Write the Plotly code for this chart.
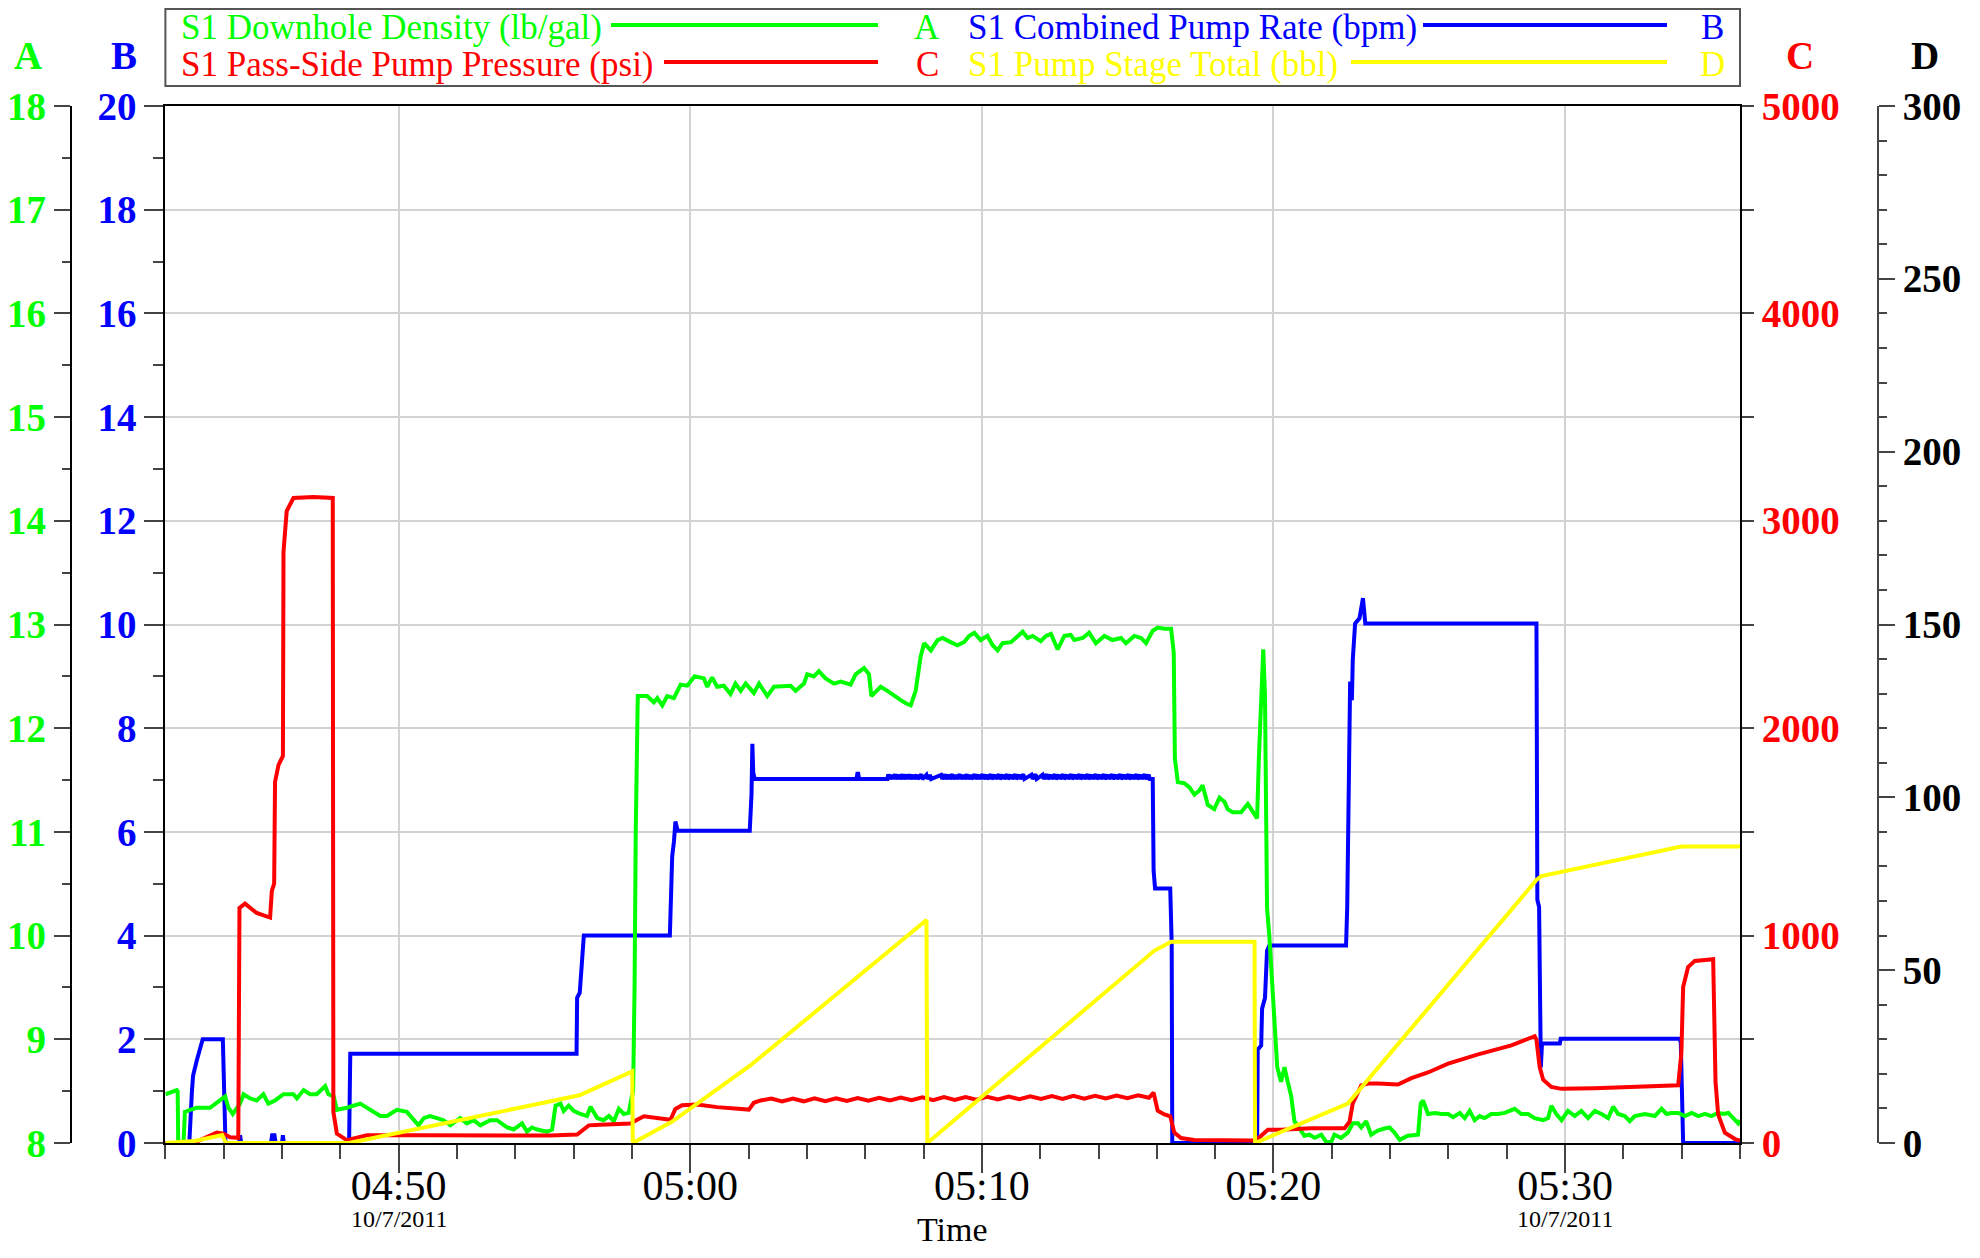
import pandas as pd
import plotly.graph_objects as go

START = pd.Timestamp("2011-10-07 04:42:00")
END = pd.Timestamp("2011-10-07 05:36:00")

# ---------------- data (time = minutes after 04:42:00) ----------------
# S1 Downhole Density (lb/gal) -> axis A
density_t = [0, 0.39, 0.42, 0.44, 0.62, 0.67, 0.85, 1.07, 1.53, 1.93, 2.05, 2.16, 2.31, 2.56, 2.68,
             2.91, 3.13, 3.36, 3.53, 3.76, 4.05, 4.39, 4.51, 4.74, 4.96, 5.19, 5.48, 5.59, 5.77, 5.88,
             6.22, 6.68, 6.91, 7.14, 7.37, 7.60, 7.94, 8.28, 8.51, 8.68, 8.86, 9.08, 9.31, 9.54, 9.77,
             10.11, 10.34, 10.57, 10.80, 11.14, 11.37, 11.72, 11.94, 12.23, 12.40, 12.57, 12.75, 13.09,
             13.26, 13.38, 13.55, 13.66, 13.83, 14.00, 14.23, 14.46, 14.58, 14.69, 14.81, 15.03, 15.21,
             15.38, 15.55, 15.72, 15.89, 15.97, 16.04, 16.09, 16.13, 16.20, 16.52, 16.75, 16.87, 17.04,
             17.21, 17.44, 17.61, 17.67, 17.90, 18.15, 18.47, 18.58, 18.75, 18.92, 19.15, 19.38, 19.55,
             19.73, 19.90, 20.18, 20.36, 20.64, 20.87, 21.21, 21.44, 21.61, 21.90, 22.01, 22.24, 22.41,
             22.64, 22.93, 23.16, 23.50, 23.67, 23.96, 24.13, 24.21, 24.53, 24.76, 24.99, 25.22, 25.39,
             25.56, 25.73, 25.90, 26.02, 26.25, 26.48, 26.65, 26.93, 27.16, 27.39, 27.56, 27.74, 27.96,
             28.19, 28.37, 28.54, 28.71, 29.00, 29.17, 29.40, 29.57, 29.74, 30.02, 30.20, 30.37, 30.60,
             30.83, 31.05, 31.17, 31.46, 31.68, 31.91, 32.20, 32.48, 32.77, 32.94, 33.23, 33.46, 33.63,
             33.86, 34.03, 34.26, 34.49, 34.58, 34.62, 34.72, 34.94, 35.12, 35.29, 35.46, 35.57, 35.75,
             35.97, 36.15, 36.32, 36.43, 36.60, 36.89, 37.12, 37.29, 37.44, 37.50, 37.58, 37.65, 37.71,
             37.78, 37.86, 37.94, 38.03, 38.13, 38.26, 38.38, 38.49, 38.61, 38.72, 38.89, 39.06, 39.24,
             39.41, 39.64, 39.81, 39.98, 40.09, 40.32, 40.55, 40.72, 40.90, 41.01, 41.18, 41.35, 41.58,
             41.81, 41.98, 42.15, 42.33, 42.61, 42.96, 43.05, 43.13, 43.30, 43.53, 43.76, 43.99, 44.16,
             44.39, 44.56, 44.73, 44.90, 45.07, 45.24, 45.47, 45.70, 45.93, 46.27, 46.50, 46.73, 46.96,
             47.25, 47.42, 47.53, 47.70, 47.88, 48.10, 48.33, 48.56, 48.79, 49.02, 49.25, 49.48, 49.65,
             49.82, 50.05, 50.22, 50.39, 50.74, 51.08, 51.31, 51.48, 51.65, 51.88, 52.11, 52.34, 52.57,
             52.80, 53.02, 53.25, 53.43, 53.60, 53.77, 53.94, 54.0]
density_v = [8.47, 8.51, 8.50, 8.00, 8.00, 8.30, 8.32, 8.34, 8.34, 8.43, 8.45, 8.34, 8.28, 8.38, 8.47,
             8.43, 8.41, 8.47, 8.38, 8.41, 8.47, 8.47, 8.43, 8.51, 8.47, 8.47, 8.55, 8.47, 8.45, 8.32,
             8.34, 8.38, 8.34, 8.30, 8.26, 8.26, 8.32, 8.30, 8.22, 8.17, 8.24, 8.26, 8.24, 8.22, 8.17,
             8.24, 8.19, 8.22, 8.17, 8.22, 8.22, 8.15, 8.13, 8.19, 8.11, 8.15, 8.13, 8.11,
             8.13, 8.36, 8.38, 8.31, 8.36, 8.31, 8.28, 8.26, 8.35, 8.29, 8.24, 8.22, 8.26,
             8.21, 8.33, 8.28, 8.29, 8.41, 8.50, 9.50, 11.0, 12.31, 12.31, 12.25, 12.29, 12.22,
             12.31, 12.29, 12.38, 12.42, 12.41, 12.50, 12.48, 12.40, 12.49, 12.40, 12.41, 12.33, 12.43,
             12.36, 12.43, 12.34, 12.43, 12.31, 12.40, 12.41, 12.41, 12.36, 12.43, 12.52, 12.50, 12.55,
             12.48, 12.43, 12.45, 12.42, 12.52, 12.58, 12.52, 12.31, 12.40, 12.36, 12.31, 12.27, 12.24,
             12.22, 12.36, 12.69, 12.82, 12.75, 12.85, 12.87, 12.83, 12.80, 12.83, 12.89, 12.92, 12.85,
             12.89, 12.80, 12.75, 12.82, 12.83, 12.87, 12.93, 12.87, 12.89, 12.84, 12.89, 12.91, 12.76,
             12.89, 12.90, 12.85, 12.87, 12.92, 12.82, 12.89, 12.85, 12.87, 12.82, 12.89, 12.87, 12.82,
             12.94, 12.97, 12.96, 12.96, 12.73, 11.71, 11.48, 11.47, 11.43, 11.36, 11.40, 11.45, 11.26,
             11.22, 11.33, 11.29, 11.22, 11.19, 11.19, 11.27, 11.19, 11.13, 11.71, 12.38, 12.76, 12.31,
             10.27, 9.99, 9.57, 9.22, 8.73, 8.59, 8.73, 8.59, 8.45, 8.21, 8.14, 8.07, 8.08,
             8.05, 8.08, 8.01, 8.01, 8.08, 8.05, 8.10, 8.19, 8.19, 8.15, 8.21, 8.08, 8.12,
             8.14, 8.15, 8.10, 8.03, 8.07, 8.08, 8.38, 8.41, 8.28, 8.29, 8.28, 8.28, 8.25,
             8.29, 8.24, 8.31, 8.22, 8.26, 8.24, 8.28, 8.28, 8.29, 8.33, 8.28, 8.28, 8.24,
             8.22, 8.24, 8.36, 8.28, 8.22, 8.31, 8.26, 8.31, 8.24, 8.31, 8.28, 8.24, 8.35,
             8.28, 8.26, 8.21, 8.26, 8.28, 8.26, 8.33, 8.28, 8.29, 8.29, 8.26, 8.29, 8.26,
             8.28, 8.26, 8.29, 8.28, 8.29, 8.24, 8.19, 8.22]

# S1 Combined Pump Rate (bpm) -> axis B
rate_t = [0, 0.82, 0.91, 0.95, 1.08, 1.19, 1.28, 1.97, 2.01, 2.06,
          2.53, 2.56, 2.60, 3.62, 3.66, 3.74, 3.78, 4.00, 4.03, 4.06,
          6.30, 6.34, 14.10, 14.12, 14.21, 14.29, 14.35, 17.30, 17.35, 17.38, 17.44, 17.49, 17.57,
          20.04, 20.07, 20.10, 20.13, 20.16, 20.21, 23.70, 23.73, 23.76, 23.79,
          33.86, 33.89, 33.94, 34.46, 34.51, 34.53, 37.44, 37.46, 37.58, 37.61, 37.71, 37.78, 37.86,
          40.49, 40.53, 40.57, 40.63, 40.69, 40.72, 40.80, 40.95, 41.07, 41.15,
          47.02, 47.05, 47.11, 47.17, 47.21, 47.82, 47.85, 51.94, 51.97, 52.05, 54.0]
rate_v = [0, 0, 1.0, 1.3, 1.6, 1.8, 2.0, 2.0, 1.0, 0,
          0, 0.15, 0, 0, 0.15, 0.15, 0, 0, 0.15, 0,
          0, 1.72, 1.72, 2.8, 2.9, 3.57, 4.0, 4.0, 4.69, 5.53, 5.81, 6.2, 6.02,
          6.02, 6.37, 6.72, 7.7, 7.14, 7.02, 7.02, 7.12, 7.12, 7.02,
          7.02, 5.25, 4.91, 4.91, 3.85, 0, 0, 1.8, 1.88, 2.59, 2.80, 3.71, 3.81,
          3.81, 4.55, 6.37, 8.90, 8.54, 9.32, 10.02, 10.12, 10.51, 10.02,
          10.02, 4.69, 4.55, 1.46, 1.92, 1.92, 2.01, 2.01, 1.92, 0, 0]
# small ripple on the 7 bpm plateau
rate_ripple_t = [24.76, 24.79, 24.83, 24.90, 24.95, 25.02, 25.06, 25.15, 25.19, 25.27, 25.31, 25.40,
                 25.44, 25.50, 25.55, 25.63, 25.67, 25.76, 25.80, 25.92, 25.96, 26.10, 26.14, 26.22,
                 26.26, 26.60, 26.64, 26.72, 26.76, 26.85, 26.89, 26.98, 27.02, 27.10, 27.14, 27.24,
                 27.28, 27.36, 27.40, 27.48, 27.52, 27.60, 27.64, 27.75, 27.79, 27.88, 27.92, 28.02,
                 28.06, 28.15, 28.19, 28.30, 28.34, 28.44, 28.48, 28.58, 28.62, 28.72, 28.76, 28.86,
                 28.90, 29.00, 29.04, 29.14, 29.18, 29.28, 29.32, 29.42, 29.46, 29.70, 29.74, 29.84,
                 29.88, 30.08, 30.12, 30.22, 30.26, 30.36, 30.40, 30.50, 30.54, 30.64, 30.68, 30.78,
                 30.82, 30.92, 30.96, 31.06, 31.10, 31.20, 31.24, 31.34, 31.38, 31.48, 31.52, 31.62,
                 31.66, 31.76, 31.80, 31.90, 31.94, 32.04, 32.08, 32.18, 32.22, 32.32, 32.36, 32.46,
                 32.50, 32.60, 32.64, 32.74, 32.78, 32.88, 32.92, 33.02, 33.06, 33.16, 33.20, 33.30,
                 33.34, 33.44, 33.48, 33.58, 33.62, 33.72, 33.76]
rate_ripple_v = [7.02, 7.11, 7.02, 7.10, 7.02, 7.11, 7.02, 7.10, 7.02, 7.11, 7.02, 7.10,
                 7.02, 7.11, 7.02, 7.10, 7.02, 7.10, 7.02, 7.11, 7.02, 7.10, 7.02, 7.10,
                 7.02, 7.10, 7.02, 7.11, 7.02, 7.10, 7.02, 7.11, 7.02, 7.10, 7.02, 7.11,
                 7.02, 7.10, 7.02, 7.11, 7.02, 7.10, 7.02, 7.11, 7.02, 7.10, 7.02, 7.11,
                 7.02, 7.10, 7.02, 7.11, 7.02, 7.10, 7.02, 7.11, 7.02, 7.10, 7.02, 7.11,
                 7.02, 7.10, 7.02, 7.11, 7.02, 7.10, 7.02, 7.11, 7.02, 7.10, 7.02, 7.11,
                 7.02, 7.10, 7.02, 7.11, 7.02, 7.10, 7.02, 7.11, 7.02, 7.10, 7.02, 7.11,
                 7.02, 7.10, 7.02, 7.11, 7.02, 7.10, 7.02, 7.11, 7.02, 7.10, 7.02, 7.11,
                 7.02, 7.10, 7.02, 7.11, 7.02, 7.10, 7.02, 7.11, 7.02, 7.10, 7.02, 7.11,
                 7.02, 7.10, 7.02, 7.11, 7.02, 7.10, 7.02, 7.11, 7.02, 7.10, 7.02, 7.11,
                 7.02, 7.10, 7.02, 7.11, 7.02, 7.10, 7.02]

# S1 Pass-Side Pump Pressure (psi) -> axis C
pressure_t = [0, 0.96, 1.76, 1.99, 2.22, 2.50, 2.54, 2.73, 3.13, 3.59, 3.65, 3.73, 3.76, 3.88, 4.03,
              4.05, 4.16, 4.39, 5.08, 5.74, 5.76, 5.88, 6.22, 6.91, 8.97, 13.20, 14.12, 14.29, 14.52,
              14.92, 15.95, 16.18, 16.41, 17.32, 17.49, 17.72, 18.24, 18.92, 20.01, 20.18,
              33.89, 34.03, 34.26, 34.46, 34.60, 34.83, 35.29, 37.35, 37.46, 37.81, 38.26, 39.29, 40.44,
              40.61, 40.72, 41.01, 41.24, 41.58, 42.27, 42.73, 43.30, 43.99, 45.02, 46.16, 46.96, 47.02,
              47.13, 47.25, 47.53, 47.88, 49.02, 50.17, 51.88, 51.99, 52.05, 52.22, 52.45, 53.08, 53.12,
              53.16, 53.25, 53.48, 53.83, 54.0]
pressure_v = [0, 0, 50, 45, 28, 25, 1133, 1154, 1109, 1087, 1216, 1250, 1741, 1823, 1866,
              2850, 3047, 3110, 3115, 3110, 150, 45, 14, 37, 37, 36, 41, 59, 85,
              88, 94, 112, 129, 112, 164, 182, 185, 173, 161, 194,
              243, 156, 138, 129, 50, 24, 15, 12, 20, 64, 64, 71, 71,
              103, 191, 278, 287, 287, 282, 313, 340, 383, 427, 471, 515, 497,
              366, 305, 270, 261, 264, 270, 278, 436, 752, 848, 878, 886, 611,
              296, 138, 50, 19, 12]
# small oscillation during the 7 bpm stage
pressure_wave_t = [20.41, 20.78, 21.15, 21.52, 21.89, 22.26, 22.63, 23.00, 23.37, 23.74, 24.11, 24.48,
                   24.85, 25.22, 25.59, 25.96, 26.33, 26.70, 27.07, 27.44, 27.81, 28.18, 28.55, 28.92,
                   29.29, 29.66, 30.03, 30.40, 30.77, 31.14, 31.51, 31.88, 32.25, 32.62, 32.99, 33.36,
                   33.73]
pressure_wave_v = [205, 214, 200, 214, 201, 215, 202, 216, 203, 217, 204, 218,
                   205, 219, 206, 220, 207, 221, 208, 222, 209, 223, 210, 224,
                   211, 225, 212, 226, 213, 227, 214, 228, 215, 229, 216, 230,
                   218]

# S1 Pump Stage Total (bbl) -> axis D
stage_t = [0, 1.0, 1.95, 2.08, 6.30, 14.20, 16.01, 16.03, 17.38, 20.07, 26.10, 26.13, 33.91, 34.49,
           37.35, 37.37, 40.55, 47.02, 47.19, 51.99, 54.0]
stage_v = [0, 0.6, 2.3, 0, 0, 13.8, 20.7, 0, 6.2, 22.5, 64.5, 0, 55.6, 58.2,
           58.2, 0, 11.4, 76.1, 77.2, 85.8, 85.8]

assert len(density_t) == len(density_v)
assert len(rate_t) == len(rate_v) and len(rate_ripple_t) == len(rate_ripple_v)
assert len(pressure_t) == len(pressure_v) and len(pressure_wave_t) == len(pressure_wave_v)
assert len(stage_t) == len(stage_v)


def merge(t1, v1, t2, v2):
    pts = sorted(zip(t1 + t2, v1 + v2), key=lambda p: p[0])
    return [p[0] for p in pts], [p[1] for p in pts]


def to_time(mins):
    return [START + pd.Timedelta(minutes=m) for m in mins]


rate_all_t, rate_all_v = merge(rate_t, rate_v, rate_ripple_t, rate_ripple_v)
press_all_t, press_all_v = merge(pressure_t, pressure_v, pressure_wave_t, pressure_wave_v)

GREEN, BLUE, RED, YELLOW = "#00ff00", "#0000ff", "#ff0000", "#ffff00"
FONT = "Liberation Serif, Times New Roman, serif"
TICKC = "#444444"

# ---------------- layout geometry (page pixels; page body has an 8px margin) ----------------
OFF = 8
W, H = 1980 - 2 * OFF, 1258 - 2 * OFF
PLOT_L, PLOT_R, PLOT_T, PLOT_B = 165.4, 1740.0, 106.0, 1143.0   # page pixels
ML, MR = 12, 12
MT = PLOT_T - OFF
MB = H - (PLOT_B - OFF)
PW, PH = W - ML - MR, H - MT - MB


def px(x):
    return (x - OFF - ML) / PW


def py(y):
    return 1 - (y - OFF - MT) / PH


fig = go.Figure()
LW = 4
fig.add_trace(go.Scatter(x=to_time(rate_all_t), y=rate_all_v, mode="lines", yaxis="y",
                         line=dict(color=BLUE, width=LW), showlegend=False, name="S1 Combined Pump Rate (bpm)"))
fig.add_trace(go.Scatter(x=to_time(density_t), y=density_v, mode="lines", yaxis="y2",
                         line=dict(color=GREEN, width=LW), showlegend=False, name="S1 Downhole Density (lb/gal)"))
fig.add_trace(go.Scatter(x=to_time(press_all_t), y=press_all_v, mode="lines", yaxis="y3",
                         line=dict(color=RED, width=LW), showlegend=False, name="S1 Pass-Side Pump Pressure (psi)"))
fig.add_trace(go.Scatter(x=to_time(stage_t), y=stage_v, mode="lines", yaxis="y4",
                         line=dict(color=YELLOW, width=LW), showlegend=False, name="S1 Pump Stage Total (bbl)"))


def tickfont_b(c):
    return dict(family=FONT, size=39, color=c, weight="bold")


fig.update_layout(
    width=W, height=H,
    margin=dict(l=ML, r=MR, t=MT, b=MB, autoexpand=False),
    paper_bgcolor="white", plot_bgcolor="white",
    showlegend=False,
    xaxis=dict(
        domain=[px(PLOT_L), px(PLOT_R)], type="date", range=[START, END], automargin=False,
        tick0="2011-10-07 04:50:00", dtick=600000, tickformat="%H:%M",
        ticks="outside", ticklen=28, tickwidth=2, tickcolor=TICKC,
        ticklabelstandoff=-23,
        tickfont=dict(family=FONT, size=42, color="black"),
        showline=True, linecolor="black", linewidth=2, mirror=True,
        showgrid=True, gridcolor="#d3d3d3", gridwidth=1.5, zeroline=False,
        minor=dict(dtick=120000, tick0="2011-10-07 04:40:00", ticks="outside", ticklen=14,
                   tickwidth=1.5, tickcolor=TICKC, showgrid=False),
    ),
    yaxis=dict(
        range=[0, 20], dtick=2, side="left", anchor="x", automargin=False,
        ticks="outside", ticklen=19, tickwidth=2, tickcolor=TICKC,
        tickfont=tickfont_b(BLUE),
        showline=True, linecolor="black", linewidth=2,
        showgrid=True, gridcolor="#d3d3d3", gridwidth=1.5, zeroline=False,
        minor=dict(dtick=1, ticks="outside", ticklen=10, tickwidth=1.5, tickcolor=TICKC, showgrid=False),
    ),
    yaxis2=dict(
        range=[8, 18], dtick=1, overlaying="y", anchor="free", position=px(70.7), side="left",
        automargin=False,
        ticks="outside", ticklen=16, tickwidth=2, tickcolor=TICKC,
        tickfont=tickfont_b(GREEN),
        showline=True, linecolor="black", linewidth=2, showgrid=False, zeroline=False,
        minor=dict(dtick=0.5, ticks="outside", ticklen=8, tickwidth=1.5, tickcolor=TICKC),
    ),
    yaxis3=dict(
        range=[0, 5000], dtick=1000, overlaying="y", anchor="x", side="right", automargin=False,
        ticks="outside", ticklen=12, tickwidth=2, tickcolor=TICKC,
        tickfont=tickfont_b(RED),
        showline=True, linecolor="black", linewidth=2, showgrid=False, zeroline=False,
        minor=dict(dtick=500, ticks="outside", ticklen=12, tickwidth=2, tickcolor=TICKC),
    ),
    yaxis4=dict(
        range=[0, 300], dtick=50, overlaying="y", anchor="free", position=px(1878), side="right",
        automargin=False,
        ticks="outside", ticklen=16, tickwidth=2, tickcolor=TICKC,
        tickfont=tickfont_b("black"),
        showline=True, linecolor=TICKC, linewidth=2, showgrid=False, zeroline=False,
        minor=dict(dtick=10, ticks="outside", ticklen=8, tickwidth=1.5, tickcolor=TICKC),
    ),
)

ann = []
# axis letters
for letter, xpix, col in [("A", 27.8, GREEN), ("B", 123.8, BLUE), ("C", 1799.5, RED), ("D", 1924.5, "black")]:
    ann.append(dict(text=f"<b>{letter}</b>", x=px(xpix), y=py(56), xref="paper", yref="paper",
                    xanchor="center", yanchor="middle", showarrow=False,
                    font=dict(family=FONT, size=39, color=col)))
# dates under ticks
for tx in ["2011-10-07 04:50:00", "2011-10-07 05:30:00"]:
    ann.append(dict(text="10/7/2011", x=tx, y=py(1219), xref="x", yref="paper",
                    xanchor="center", yanchor="middle", showarrow=False,
                    font=dict(family=FONT, size=24, color="black")))
ann.append(dict(text="Time", x=px((PLOT_L + PLOT_R) / 2), y=py(1250), xref="paper", yref="paper",
                xanchor="center", yanchor="bottom", showarrow=False,
                font=dict(family=FONT, size=34, color="black")))

# custom legend box
shapes = [dict(type="rect", xref="paper", yref="paper", x0=px(PLOT_L), x1=px(PLOT_R),
               y0=py(86), y1=py(9), line=dict(color="#555555", width=2), fillcolor="rgba(0,0,0,0)")]
legend_items = [
    ("S1 Downhole Density (lb/gal)", GREEN, "A", 179, 611, 878, 927, 28),
    ("S1 Pass-Side Pump Pressure (psi)", RED, "C", 179, 664, 878, 927, 65),
    ("S1 Combined Pump Rate (bpm)", BLUE, "B", 966, 1423, 1667, 1712, 28),
    ("S1 Pump Stage Total (bbl)", YELLOW, "D", 966, 1351, 1667, 1712, 65),
]
for name, col, letter, tx, l0, l1, lx, ry in legend_items:
    ann.append(dict(text=name, x=px(tx), y=py(ry), xref="paper", yref="paper",
                    xanchor="left", yanchor="middle", showarrow=False,
                    font=dict(family=FONT, size=35, color=col)))
    ann.append(dict(text=letter, x=px(lx), y=py(ry), xref="paper", yref="paper",
                    xanchor="center", yanchor="middle", showarrow=False,
                    font=dict(family=FONT, size=35, color=col)))
    shapes.append(dict(type="line", xref="paper", yref="paper", x0=px(l0), x1=px(l1),
                       y0=py(ry - 3), y1=py(ry - 3), line=dict(color=col, width=4)))

fig.update_layout(annotations=ann, shapes=shapes)

fig.write_html("out.html")
